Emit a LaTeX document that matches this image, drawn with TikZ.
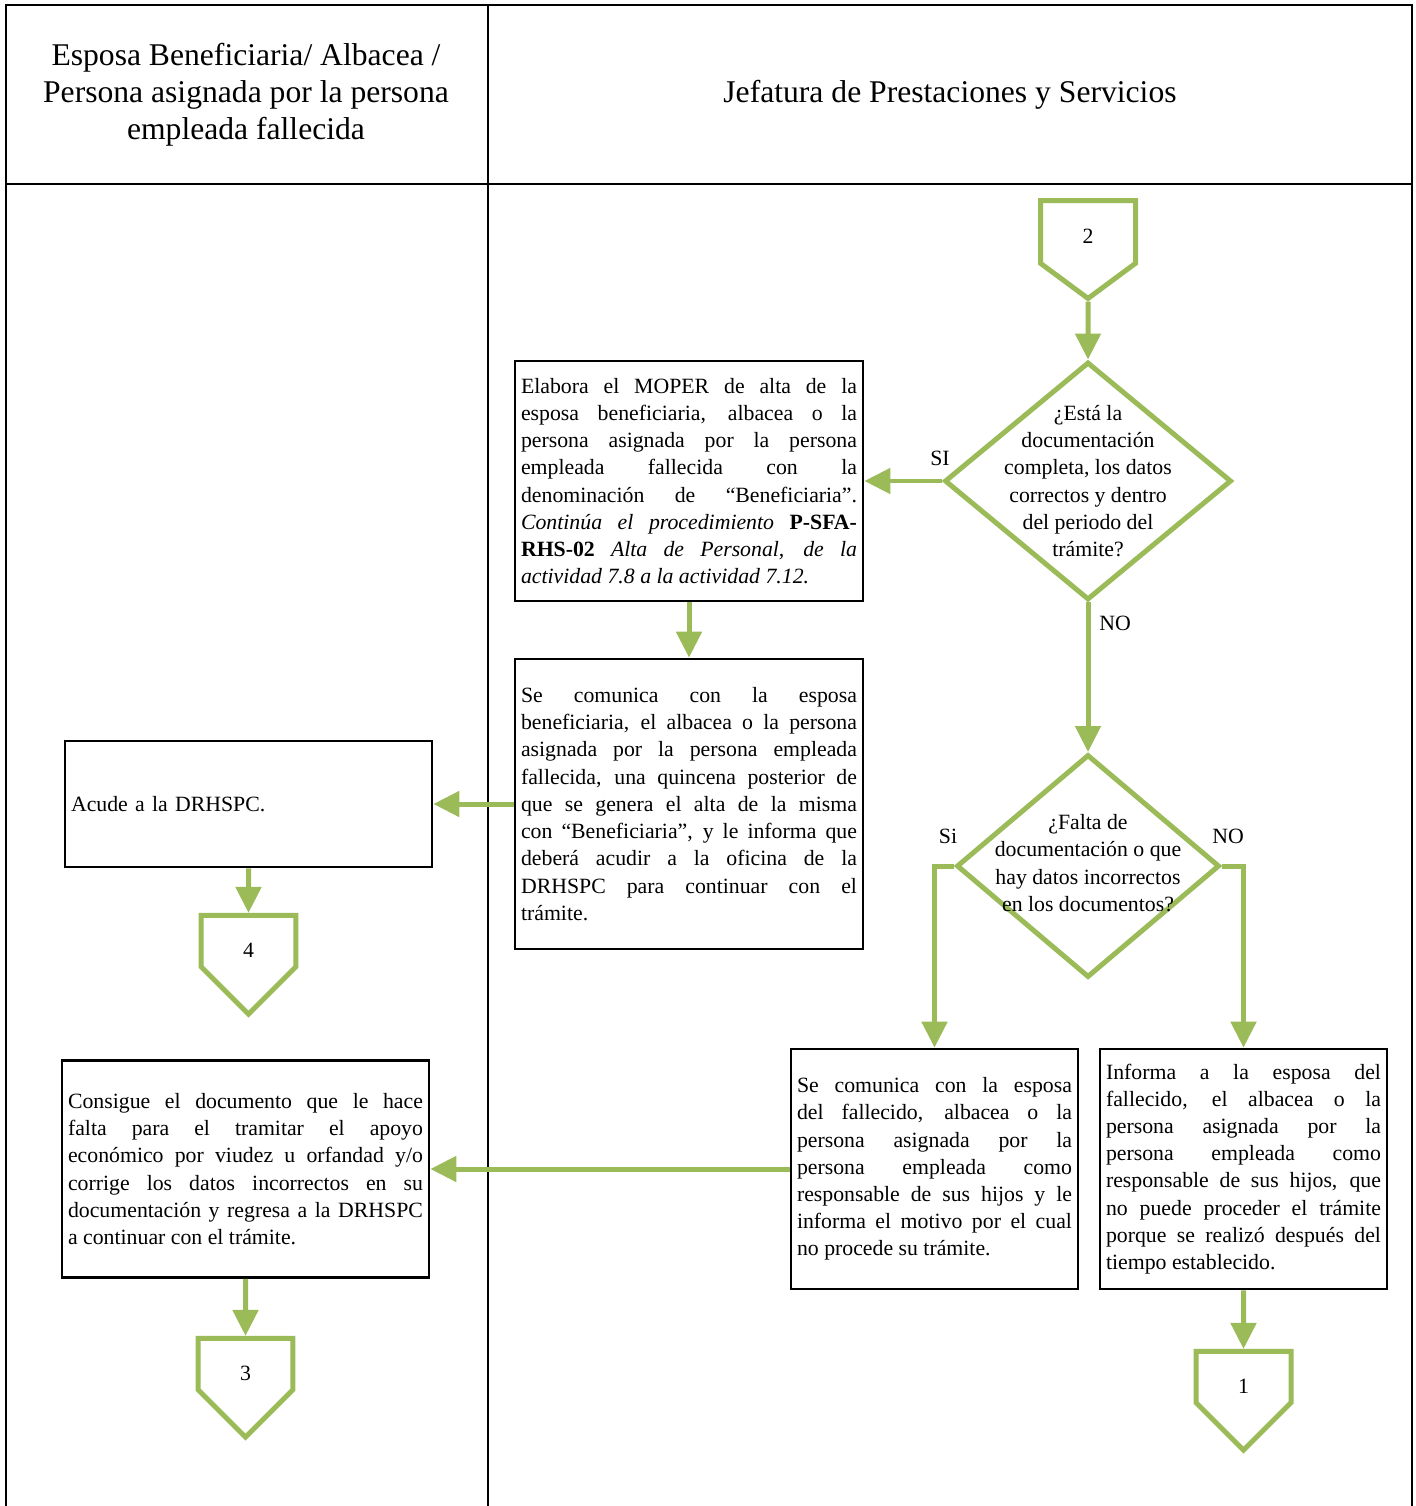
\documentclass[tikz,border=0pt]{standalone}
\usepackage{fontspec}
\setmainfont{Liberation Serif}
\usetikzlibrary{shapes.geometric, shapes.symbols, arrows.meta, positioning}
\definecolor{flowgreen}{RGB}{155,187,89}

\begin{document}
\begin{tikzpicture}[
    x=0.02cm, y=-0.02cm,
    lane/.style={line width=1.3pt, draw=black},
    head/.style={align=center, font=\fontsize{18}{21}\selectfont},
    box/.style={rectangle, draw=black, line width=1.6pt, fill=white,
                align=justify, inner xsep=0.12cm, inner ysep=0pt,
                font=\fontsize{12.4}{15.5}\selectfont},
    decision/.style={diamond, draw=flowgreen, line width=0.1cm, fill=white, inner sep=0pt},
    qtext/.style={align=center, font=\fontsize{12.4}{15.5}\selectfont},
    offpage/.style={signal, signal to=south, signal pointer angle=90,
                    draw=flowgreen, line width=0.1cm, fill=white,
                    minimum width=1.9cm, minimum height=1.25cm,
                    text height=0.65cm, text depth=0pt,
                    font=\fontsize{12.4}{15.5}\selectfont},
    lbl/.style={font=\fontsize{12.4}{15.5}\selectfont, inner sep=0pt},
    arr/.style={-{Triangle[length=0.52cm,width=0.5cm]}, line width=0.1cm, draw=flowgreen}
]
\useasboundingbox (0,0) rectangle (1415,1506);

% lanes
\draw[lane] (6,1506) -- (6,5) -- (1412,5) -- (1412,1506);
\draw[lane] (488,5) -- (488,1506);
\draw[lane] (6,184) -- (1412,184);
\node[head] (hdrL) at (246,95) {Esposa Beneficiaria/ Albacea /\\Persona asignada por la persona\\empleada fallecida};
\node[head] (hdrR) at (950,95) {Jefatura de Prestaciones y Servicios};

% off-page connectors
\node[offpage, signal pointer angle=107, minimum height=1.42cm, text height=0.45cm] (c2) at (1088,232) {2};
\node[offpage] (c4) at (248.5,941) {4};
\node[offpage] (c3) at (245.5,1364) {3};
\node[offpage] (c1) at (1243.5,1377) {1};

% decisions
\node[decision, minimum width=5.74cm, minimum height=4.76cm] (d1) at (1088,481) {};
\node[qtext] (d1t) at (d1) {¿Está la\\documentación\\completa, los datos\\correctos y dentro\\del periodo del\\trámite?};
\node[decision, minimum width=5.26cm, minimum height=4.46cm] (d2) at (1088,866) {};
\node[qtext] (d2t) at ([yshift=0.06cm]d2.center) {¿Falta de\\documentación o que\\hay datos incorrectos\\en los documentos?};

% activities
\node[box, text width=6.72cm, minimum height=4.8cm] (alta) at (689,481) {Elabora el MOPER de alta de la\linebreak
esposa beneficiaria, albacea o la\linebreak
persona asignada por la persona\linebreak
empleada fallecida con la\linebreak
denominación de “Beneficiaria”.\linebreak
\textit{Continúa el procedimiento} \textbf{P-SFA-\linebreak
RHS-02} \textit{Alta de Personal, de la\linebreak
actividad 7.8 a la actividad 7.12.}};
\node[box, text width=6.72cm, minimum height=5.8cm] (comunica) at (689,804) {Se comunica con la esposa\linebreak
beneficiaria, el albacea o la persona\linebreak
asignada por la persona empleada\linebreak
fallecida, una quincena posterior de\linebreak
que se genera el alta de la misma\linebreak
con “Beneficiaria”, y le informa que\linebreak
deberá acudir a la oficina de la\linebreak
DRHSPC para continuar con el\linebreak
trámite.};
\node[box, align=left, text width=7.1cm, minimum height=2.52cm] (acude) at (248.5,804) {Acude a la DRHSPC.};
\node[box, text width=5.5cm, minimum height=4.8cm] (noprocede) at (934.5,1169) {Se comunica con la esposa\linebreak
del fallecido, albacea o la\linebreak
persona asignada por la\linebreak
persona empleada como\linebreak
responsable de sus hijos y le\linebreak
informa el motivo por el cual\linebreak
no procede su trámite.};
\node[box, text width=5.5cm, minimum height=4.8cm] (fuera) at (1243.5,1169) {Informa a la esposa del\linebreak
fallecido, el albacea o la\linebreak
persona asignada por la\linebreak
persona empleada como\linebreak
responsable de sus hijos, que\linebreak
no puede proceder el trámite\linebreak
porque se realizó después del\linebreak
tiempo establecido.};
\node[box, text width=7.1cm, minimum height=4.34cm] (consigue) at (245.5,1169) {Consigue el documento que le hace\linebreak
falta para el tramitar el apoyo\linebreak
económico por viudez u orfandad y/o\linebreak
corrige los datos incorrectos en su\linebreak
documentación y regresa a la DRHSPC\linebreak
a continuar con el trámite.};

% branch labels
\node[lbl] (siA) at (940,458) {SI};
\node[lbl] (noA) at (1115,623) {NO};
\node[lbl] (siB) at (948,836) {Si};
\node[lbl] (noB) at (1228,836) {NO};

% flow
\draw[arr] (c2) -- (d1);
\draw[arr] (d1) -- (alta);
\draw[arr] (alta) -- (comunica);
\draw[arr] (comunica) -- (acude);
\draw[arr] (acude) -- (c4);
\draw[arr] (d1) -- (d2);
\draw[arr] (d2.west) -| (noprocede.north);
\draw[arr] (d2.east) -| (fuera.north);
\draw[arr] (noprocede) -- (consigue);
\draw[arr] (consigue) -- (c3);
\draw[arr] (fuera) -- (c1);
\end{tikzpicture}
\end{document}
